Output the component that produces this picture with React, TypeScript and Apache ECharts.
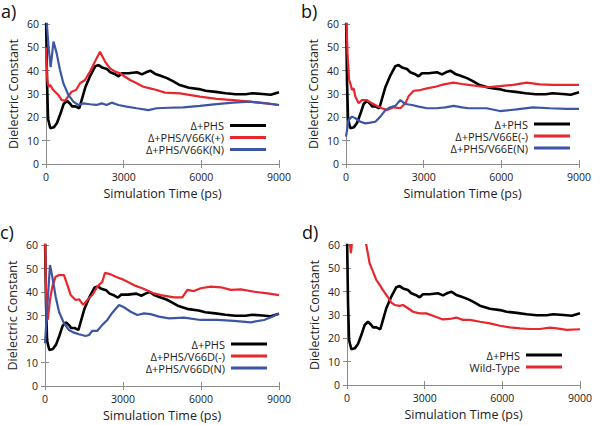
import React, { useEffect, useRef } from "react";
import * as echarts from "echarts";

const xTicks = [0, 3000, 6000, 9000];
const yTicks = [0, 10, 20, 30, 40, 50, 60];

// Δ+PHS (same in all panels)
const tPHS = [0, 40, 80, 167, 300, 425, 553, 682, 811, 940, 1004, 1133, 1287, 1390, 1519, 1712, 1905, 2033, 2162, 2355, 2484, 2651, 2805, 2934, 3192, 3514, 3707, 3861, 4028, 4221, 4400, 4672, 4900, 5134, 5521, 5908, 6166, 6553, 6940, 7327, 7714, 7972, 8359, 8682, 9000];
const vPHS = [65, 35, 19.3, 15.3, 15.7, 17.6, 21.4, 25.7, 27.1, 25.7, 24.7, 24.7, 23.9, 27.9, 32.9, 37.9, 41.9, 42.4, 41.4, 40.7, 39.3, 38.6, 37.6, 38.9, 38.9, 39.3, 38.4, 39.3, 40, 38.6, 37.9, 36.8, 35.5, 34, 32.7, 32.1, 31.4, 30.9, 30.3, 29.9, 29.9, 30.3, 30, 29.7, 30.7];

// a) V66K(+)
const tK = [0, 50, 100, 155, 283, 477, 605, 734, 863, 992, 1159, 1314, 1507, 1700, 1893, 2087, 2280, 2473, 2666, 2859, 3053, 3246, 3503, 3760, 4018, 4275, 4597, 5175, 5945, 6587, 7229, 7871, 8513, 9000];
const vK = [50, 36, 33, 33.9, 31.7, 29.6, 27.4, 27.1, 29.1, 31, 31.7, 34.6, 36, 39.6, 43.9, 48.1, 43.9, 41, 39.6, 38.9, 37.4, 36, 34.6, 33.1, 32.4, 31.7, 30.6, 30.3, 28.9, 27.9, 27.4, 26.7, 26, 25.3];
// a) V66K(N)
const tKN = [0, 100, 180, 290, 412, 541, 670, 863, 1056, 1249, 1443, 1700, 1950, 2151, 2344, 2537, 2795, 3117, 3503, 3954, 4276, 4727, 5303, 5945, 6587, 7229, 7871, 8513, 9000];
const vKN = [65, 50, 41.5, 52.5, 47.4, 40.3, 34.6, 29.6, 26.7, 25.3, 26, 25.6, 25.3, 26, 25.3, 26.3, 25.3, 24.6, 23.9, 23.1, 23.9, 24.1, 24.3, 24.9, 25.7, 26.3, 26.7, 26, 25.3];

// b) V66E(-)
const tE = [0, 60, 120, 167, 232, 296, 361, 489, 618, 811, 1004, 1198, 1391, 1584, 1842, 2099, 2293, 2421, 2615, 2872, 3130, 3452, 3774, 4160, 4482, 4740, 5430, 5945, 6459, 6973, 7486, 8000, 8513, 9000];
const vE = [65, 47.4, 36, 34.6, 31.7, 32.4, 28.9, 26, 27.4, 27.4, 26, 24.9, 23.9, 23.1, 24.3, 23.9, 26, 29.1, 31.4, 31.7, 32.4, 33.1, 34.1, 34.9, 34.3, 33.9, 32.9, 33.4, 33.9, 34.9, 34.1, 33.9, 33.9, 33.9];
// b) V66E(N)
const tEN = [0, 103, 232, 361, 554, 747, 940, 1133, 1327, 1520, 1713, 1906, 2099, 2293, 2550, 2808, 3130, 3500, 3838, 4160, 4482, 4740, 5430, 5945, 6587, 7229, 7871, 8513, 9000];
const vEN = [11.7, 18.9, 20.3, 19.6, 18.1, 17.4, 17.7, 18.1, 20.3, 23.1, 24.3, 24.9, 27.4, 25.7, 25.3, 24.6, 23.9, 23.9, 24.3, 24.9, 24.3, 23.9, 23.9, 22.7, 23.4, 24.3, 23.9, 23.6, 23.6];

// c) V66D(-)
const tD = [0, 60, 110, 192, 282, 410, 538, 731, 859, 987, 1179, 1308, 1474, 1628, 1820, 2013, 2205, 2308, 2526, 2718, 2974, 3231, 3487, 3743, 3936, 4192, 4448, 4962, 5282, 5475, 5732, 5990, 6376, 6762, 7148, 7534, 8049, 8563, 9000];
const vD = [65, 28, 28.5, 36.6, 42.3, 46.5, 47.2, 47.2, 43, 38.7, 36.6, 36.9, 34.5, 36.6, 38.7, 42.3, 44.4, 48.2, 47.5, 46.5, 45.4, 44, 42.6, 41.6, 40.6, 39.4, 38.7, 37.7, 37.7, 40.9, 40.4, 41.6, 42.3, 42, 40.9, 41.1, 40.1, 39.4, 38.7];
// c) V66D(N)
const tDN = [0, 192, 282, 410, 538, 731, 923, 1115, 1308, 1564, 1692, 1820, 2013, 2205, 2397, 2590, 2846, 3038, 3295, 3551, 3808, 4064, 4384, 4769, 5346, 5987, 6628, 7269, 7910, 8423, 8743, 9000];
const vDN = [18.2, 51.5, 46.5, 38, 31.6, 26.7, 23.8, 22.7, 22, 21.3, 21.7, 23.5, 23.5, 26, 28.1, 31.2, 34.5, 33.5, 31.6, 30.2, 30.9, 30.6, 29.5, 28.8, 29.1, 28.1, 28.1, 27.7, 27.1, 28.1, 29.5, 30.9];

// d) Wild-Type
const tWT = [0, 100, 150, 200, 300, 746, 875, 1004, 1133, 1261, 1390, 1583, 1712, 1840, 2033, 2162, 2355, 2548, 2805, 3063, 3321, 3707, 3964, 4221, 4479, 4747, 5134, 5521, 5908, 6295, 6682, 7069, 7456, 7843, 8101, 8488, 9000];
const vWT = [80, 62, 56.5, 62, 80, 60, 52.1, 48.6, 45, 42.9, 40.7, 37.6, 35.3, 34.3, 33.9, 34.3, 32.9, 31.4, 30.7, 30.7, 29.7, 28.1, 28.3, 28.9, 27.9, 27.9, 27.1, 26.4, 25.4, 24.7, 24.3, 24, 24, 24.6, 24.3, 23.6, 23.9];

const BLACK = "#000000";
const RED = "#e8262d";
const BLUE = "#3d55a5";
const FONT = "Open Sans";
const FRAME = "#8c8c8c";

const zip = (t: number[], v: number[]) => t.map((x, i) => [x, v[i]]);

export default function App() {
  const ref = useRef<HTMLDivElement>(null);
  useEffect(() => {
    if (!ref.current) return;
    const chart = echarts.init(ref.current, undefined, { renderer: "svg" });

    const grids = [
      { left: 46, top: 24, width: 233, height: 140 },
      { left: 346, top: 24, width: 233, height: 140 },
      { left: 45, top: 245, width: 234, height: 141 },
      { left: 347, top: 245, width: 233, height: 140 },
    ];
    const panels = [
      { label: "a)", series: [["Δ+PHS", tPHS, vPHS, BLACK], ["Δ+PHS/V66K(+)", tK, vK, RED], ["Δ+PHS/V66K(N)", tKN, vKN, BLUE]], legend: { right: 334, top: 120 } },
      { label: "b)", series: [["Δ+PHS", tPHS, vPHS, BLACK], ["Δ+PHS/V66E(-)", tE, vE, RED], ["Δ+PHS/V66E(N)", tEN, vEN, BLUE]], legend: { right: 30, top: 118.5 } },
      { label: "c)", series: [["Δ+PHS", tPHS, vPHS, BLACK], ["Δ+PHS/V66D(-)", tD, vD, RED], ["Δ+PHS/V66D(N)", tDN, vDN, BLUE]], legend: { right: 333, top: 338.5 } },
      { label: "d)", series: [["Δ+PHS", tPHS, vPHS, BLACK], ["Wild-Type", tWT, vWT, RED]], legend: { right: 38, top: 349.5 } },
    ];

    const xAxis: any[] = [];
    const yAxis: any[] = [];
    const series: any[] = [];
    const legend: any[] = [];
    const graphic: any[] = [];

    panels.forEach((p, gi) => {
      const base = {
        gridIndex: gi,
        type: "value",
        axisLine: { show: true, lineStyle: { color: FRAME, width: 1 } },
        axisTick: { show: true, inside: true, length: 4, lineStyle: { color: FRAME } },
        splitLine: { show: false },
      };
      xAxis.push({
        ...base,
        position: "bottom",
        min: xTicks[0], max: xTicks[xTicks.length - 1], interval: xTicks[1] - xTicks[0],
        name: "Simulation Time (ps)",
        nameLocation: "middle",
        nameGap: 23,
        nameTextStyle: { fontFamily: FONT, fontSize: 12.5, color: "#222" },
        axisLabel: { fontFamily: FONT, fontSize: 10.5, color: "#222", margin: 7, formatter: (v: number) => String(v) },
      });
      xAxis.push({
        ...base,
        position: "top",
        min: xTicks[0], max: xTicks[xTicks.length - 1], interval: xTicks[1] - xTicks[0],
        axisLabel: { show: false },
      });
      yAxis.push({
        ...base,
        position: "left",
        min: yTicks[0], max: yTicks[yTicks.length - 1], interval: yTicks[1] - yTicks[0],
        name: "Dielectric Constant",
        nameLocation: "middle",
        nameGap: 26,
        nameTextStyle: { fontFamily: FONT, fontSize: 12.5, color: "#222" },
        axisLabel: { fontFamily: FONT, fontSize: 10.5, color: "#222", margin: 7 },
      });
      yAxis.push({
        ...base,
        position: "right",
        min: yTicks[0], max: yTicks[yTicks.length - 1], interval: yTicks[1] - yTicks[0],
        axisLabel: { show: false },
      });
      const names: string[] = [];
      p.series.forEach((s: any) => {
        const [name, t, v, color] = s;
        names.push(name);
        series.push({
          type: "line",
          name,
          xAxisIndex: gi * 2,
          yAxisIndex: gi * 2,
          data: zip(t, v),
          showSymbol: false,
          symbol: "none",
          clip: true,
          lineStyle: { color, width: color === BLACK ? 2.6 : 2.2 },
          itemStyle: { color },
          z: color === BLACK ? 2 : 3,
        });
      });
      legend.push({
        data: names,
        orient: "vertical",
        align: "right",
        right: p.legend.right,
        top: p.legend.top,
        icon: "rect",
        itemWidth: 36,
        itemHeight: 3,
        itemGap: 1,
        padding: 0,
        selectedMode: false,
        textStyle: { fontFamily: FONT, fontSize: 11, color: "#222", lineHeight: 10.5, padding: [0, 1, 0, 0] },
      });
      const g = grids[gi];
      graphic.push({
        type: "text",
        left: g.left - 46 + 1,
        top: g.top - 24 + 2,
        style: { text: p.label, fontFamily: FONT, fontSize: 18, fill: "#111" },
      });
    });

    chart.setOption({
      animation: false,
      grid: grids.map((g) => ({ ...g, containLabel: false, show: false })),
      xAxis,
      yAxis,
      series,
      legend,
      graphic,
    });
    return () => chart.dispose();
  }, []);

  return (
    <div
      ref={ref}
      style={{ position: "fixed", left: 0, top: 0, width: 600, height: 425, background: "#fff" }}
    />
  );
}
